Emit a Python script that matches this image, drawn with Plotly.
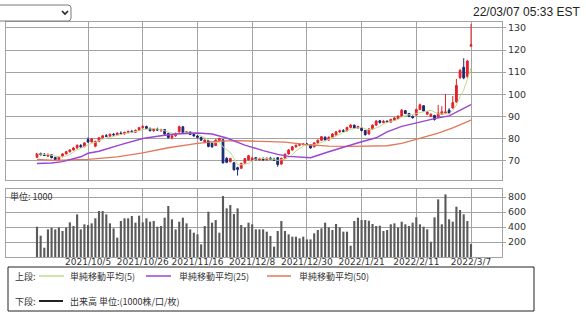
import plotly.graph_objects as go
import pandas as pd

W, H = 586, 314


def px(x):
    return x / W


def py(y):
    return 1 - y / H


# ---------------- data ----------------
opens = [71.5, 73.2, 72.8, 72.0, 72.6, 71.4, 70.4, 71.8, 73.0, 74.0,
         74.8, 75.7, 76.8, 76.3, 79.5, 78.4, 76.5, 78.6, 80.3, 81.2,
         81.0, 81.9, 81.6, 82.4, 82.1, 82.8, 83.2, 82.8, 83.7, 84.9,
         85.4, 84.5, 83.5, 84.2, 83.8, 84.0, 82.2, 80.4, 81.2, 83.0,
         85.3, 82.5, 83.0, 81.8, 81.1, 80.5, 78.2, 79.0, 77.8, 76.8,
         79.1, 79.4, 71.0, 69.5, 69.0, 66.8, 66.5, 68.8, 70.3, 70.2,
         71.3, 70.4, 70.8, 70.3, 71.1, 70.6, 71.3, 68.4, 71.1, 73.0,
         74.8, 76.2, 76.9, 77.3, 77.5, 77.2, 76.2, 78.0, 79.2, 80.6,
         79.3, 80.5, 81.6, 83.0, 83.5, 83.4, 85.0, 86.0, 84.7, 84.8,
         83.6, 82.0, 84.3, 86.0, 88.0, 87.2, 87.8, 87.4, 88.2, 89.0,
         90.1, 92.6, 91.3, 90.0, 90.6, 93.1, 94.8, 91.0, 90.0, 90.4,
         89.6, 91.0, 91.6, 92.8, 93.8, 96.5, 107.6, 112.2, 108.0, 121.8]
highs = [73.5, 73.6, 73.4, 73.2, 72.9, 71.7, 71.9, 73.4, 74.4, 75.1,
         76.2, 77.3, 77.5, 78.3, 80.5, 80.2, 79.0, 80.6, 81.6, 82.0,
         82.2, 82.5, 82.8, 83.2, 83.0, 83.5, 83.9, 84.0, 85.2, 86.0,
         85.8, 85.0, 84.6, 84.9, 84.4, 84.3, 82.6, 81.5, 82.6, 85.8,
         85.6, 83.4, 83.3, 82.4, 81.6, 80.8, 79.6, 79.3, 78.2, 79.6,
         80.3, 79.8, 71.5, 71.2, 69.4, 67.2, 69.0, 71.1, 72.6, 71.8,
         71.6, 71.2, 71.5, 71.4, 71.7, 71.3, 71.6, 71.3, 73.2, 75.2,
         76.6, 77.3, 77.8, 77.8, 78.0, 77.4, 78.3, 79.5, 81.1, 80.9,
         81.0, 82.4, 83.3, 84.0, 84.2, 85.3, 86.4, 86.3, 85.8, 85.0,
         83.9, 84.6, 86.4, 88.3, 88.4, 88.3, 88.2, 88.9, 89.6, 90.4,
         93.3, 92.9, 91.6, 90.4, 93.5, 95.8, 95.0, 92.4, 91.3, 90.7,
         95.2, 94.6, 100.2, 93.7, 99.2, 107.0, 111.4, 116.3, 115.6, 131.8]
lows = [71.2, 72.3, 72.0, 71.8, 71.0, 70.0, 70.1, 71.5, 72.8, 73.6,
        74.5, 75.3, 75.8, 76.0, 78.0, 78.1, 76.0, 78.3, 79.9, 80.6,
        80.7, 81.2, 81.3, 81.8, 81.7, 82.3, 82.5, 82.5, 83.4, 84.4,
        84.2, 83.2, 83.0, 83.5, 82.9, 81.6, 80.0, 79.6, 80.8, 82.6,
        82.2, 82.0, 81.5, 80.9, 80.0, 78.9, 77.8, 76.0, 75.8, 76.5,
        78.7, 68.6, 68.8, 69.2, 65.5, 63.2, 66.2, 68.5, 70.0, 69.8,
        70.1, 69.8, 70.0, 70.0, 70.3, 69.8, 67.2, 68.1, 70.8, 72.7,
        74.4, 75.8, 76.5, 76.8, 76.9, 75.4, 76.0, 77.6, 78.9, 79.0,
        79.0, 80.2, 81.2, 82.5, 82.8, 83.1, 84.6, 84.4, 84.3, 83.2,
        81.3, 81.8, 84.0, 85.7, 86.7, 86.8, 87.0, 87.1, 87.9, 88.7,
        89.8, 91.0, 89.6, 89.0, 90.3, 92.8, 92.0, 90.6, 89.8, 88.1,
        89.3, 90.6, 91.2, 91.0, 93.5, 96.2, 106.8, 106.8, 107.2, 121.5]
closes = [73.2, 72.6, 72.3, 72.8, 71.3, 70.4, 71.6, 73.0, 74.0, 74.8,
          75.7, 76.9, 76.2, 78.0, 78.4, 79.8, 78.6, 80.3, 81.2, 81.0,
          81.9, 81.6, 82.4, 82.1, 82.8, 83.2, 82.8, 83.7, 84.9, 85.4,
          84.5, 83.5, 84.2, 83.8, 84.0, 82.0, 80.4, 81.2, 82.3, 85.3,
          82.5, 83.0, 81.8, 81.1, 80.5, 79.2, 79.3, 76.4, 76.2, 79.3,
          80.0, 69.0, 69.2, 70.9, 65.8, 66.0, 68.7, 70.9, 72.2, 71.1,
          70.4, 70.8, 70.3, 71.1, 70.6, 70.2, 68.2, 71.0, 72.9, 74.8,
          76.2, 76.9, 77.3, 77.5, 77.2, 75.7, 78.0, 79.2, 80.8, 79.3,
          80.5, 82.0, 83.0, 83.5, 83.2, 85.0, 86.1, 84.7, 85.4, 83.6,
          81.7, 84.3, 86.0, 87.9, 87.2, 87.8, 87.4, 88.6, 89.3, 90.1,
          92.8, 91.3, 90.0, 89.4, 93.1, 95.2, 92.4, 92.0, 91.0, 88.6,
          91.5, 92.1, 92.0, 91.4, 96.2, 104.0, 110.8, 107.4, 115.0, 122.4]
volumes = [404, 284, 124, 369, 391, 369, 395, 347, 395, 462,
           413, 569, 369, 436, 427, 449, 516, 613, 613, 569,
           449, 382, 258, 480, 516, 516, 547, 458, 551, 462,
           516, 471, 480, 404, 413, 524, 680, 502, 369, 471,
           524, 449, 369, 324, 302, 169, 413, 604, 458, 493,
           324, 813, 649, 693, 573, 649, 427, 395, 458, 436,
           369, 369, 369, 338, 280, 138, 347, 480, 347, 302,
           271, 271, 249, 271, 235, 235, 316, 360, 382, 458,
           395, 360, 440, 395, 338, 338, 151, 480, 524, 493,
           493, 484, 440, 413, 418, 347, 360, 436, 449, 395,
           471, 436, 413, 458, 529, 436, 404, 369, 204, 529,
           769, 436, 835, 502, 471, 671, 627, 569, 480, 173]

ma25_idx = [0, 4, 7, 12, 14, 17, 23, 29, 34, 38, 44, 48, 52, 57, 62, 66, 69,
            75, 80, 84, 89, 93, 96, 100, 105, 109, 113, 115, 119]
ma25_val = [68.7, 68.9, 69.5, 71.7, 73.3, 74.2, 77.2, 80.0, 81.2, 82.0, 82.5,
            82.0, 80.2, 77.0, 74.5, 72.8, 71.9, 71.3, 74.0, 76.1, 78.5, 80.3,
            83.0, 85.5, 87.6, 89.0, 90.2, 91.8, 95.3]
ma50_idx = [0, 5, 14, 22, 29, 36, 44, 50, 55, 62, 68, 74, 80, 86, 92, 96, 100,
            105, 110, 114, 119]
ma50_val = [70.5, 70.1, 70.5, 71.7, 73.5, 75.8, 77.8, 78.8, 79.0, 78.8, 78.3,
            77.2, 76.5, 76.4, 76.6, 76.7, 77.8, 80.2, 82.4, 84.8, 88.3]

tick_idx = [14, 29, 44, 59, 74, 89, 104, 119]
tick_labels = ["2021/10/5", "2021/10/26", "2021/11/16", "2021/12/8",
               "2021/12/30", "2022/1/21", "2022/2/11", "2022/3/7"]
price_ticks = [70, 80, 90, 100, 110, 120, 130]
vol_ticks = [200, 400, 600, 800]

legend_upper = ["単純移動平均(5)", "単純移動平均(25)", "単純移動平均(50)"]
legend_lower = "出来高 単位:(1000株/口/枚)"
timestamp = "22/03/07 05:33 EST"
unit_label = "単位: 1000"

# ---------------- styles ----------------
RED = "#e3222b"
NAVY = "#1b2874"
C_MA5 = "#c4d98e"
C_MA25 = "#9b45d3"
C_MA50 = "#e2785a"
GRID = "#a3a3a3"
TXT = "#333333"
NUMFONT = "DejaVu Sans"
JPFONT = "Noto Sans CJK JP"

x = list(range(len(closes)))
ma5 = pd.Series(closes).rolling(5, min_periods=1).mean()

fig = go.Figure()
fig.add_trace(go.Candlestick(
    x=x, open=opens, high=highs, low=lows, close=closes,
    increasing=dict(line=dict(color=RED, width=1), fillcolor=RED),
    decreasing=dict(line=dict(color=NAVY, width=1), fillcolor=NAVY),
    whiskerwidth=0, xaxis="x", yaxis="y", hoverinfo="skip"))
fig.add_trace(go.Scatter(x=x, y=ma5, mode="lines",
                         line=dict(color=C_MA5, width=1), xaxis="x", yaxis="y"))
fig.add_trace(go.Scatter(x=ma50_idx, y=ma50_val, mode="lines",
                         line=dict(color=C_MA50, width=1.3), xaxis="x", yaxis="y"))
fig.add_trace(go.Scatter(x=ma25_idx, y=ma25_val, mode="lines",
                         line=dict(color=C_MA25, width=1.4), xaxis="x", yaxis="y"))
fig.add_trace(go.Bar(x=x, y=volumes, width=0.58,
                     marker=dict(color="#5a5a5a", line=dict(width=0)),
                     xaxis="x2", yaxis="y2"))

XR = [-8.5, 127.5]
xdom = [px(6), px(502)]
common_x = dict(range=XR, domain=xdom, tickvals=tick_idx, showgrid=True,
                gridcolor=GRID, gridwidth=1, showline=True, mirror=True,
                linecolor=GRID, linewidth=1, zeroline=False, fixedrange=True)

fig.update_layout(
    width=W, height=H, margin=dict(l=0, r=0, t=0, b=0),
    paper_bgcolor="white", plot_bgcolor="white", showlegend=False,
    xaxis=dict(**common_x, showticklabels=False, rangeslider=dict(visible=False),
               anchor="y"),
    yaxis=dict(domain=[py(180), py(22)], range=[61.2, 132.7], side="right",
               tickvals=price_ticks, showgrid=True, gridcolor=GRID,
               showline=True, mirror=True, linecolor=GRID, zeroline=False,
               ticks="outside", ticklen=3, tickcolor=GRID,
               tickfont=dict(family=NUMFONT, size=9.5, color=TXT), anchor="x"),
    xaxis2=dict(**common_x, ticktext=tick_labels, ticks="",
                ticklabelstandoff=-4,
                tickfont=dict(family=NUMFONT, size=9, color=TXT), anchor="y2"),
    yaxis2=dict(domain=[py(257), py(189)], range=[0, 907], side="right",
                tickvals=vol_ticks, showgrid=True, gridcolor=GRID,
                showline=True, mirror=True, linecolor=GRID, zeroline=False,
                ticks="outside", ticklen=3, tickcolor=GRID,
                tickfont=dict(family=NUMFONT, size=9.5, color=TXT), anchor="x2"),
)

shapes = []
annos = []

# dropdown box
x0, x1, y0, y1, r = -3, 71, 5, 21, 3
path = (f"M {px(x0)},{py(y0)} L {px(x1 - r)},{py(y0)} "
        f"Q {px(x1)},{py(y0)} {px(x1)},{py(y0 + r)} "
        f"L {px(x1)},{py(y1 - r)} Q {px(x1)},{py(y1)} {px(x1 - r)},{py(y1)} "
        f"L {px(x0)},{py(y1)} Z")
shapes.append(dict(type="path", xref="paper", yref="paper", path=path,
                   fillcolor="white", line=dict(color="#7a7a7a", width=1)))
chev = f"M {px(62)},{py(11)} L {px(65)},{py(14)} L {px(68)},{py(11)}"
shapes.append(dict(type="path", xref="paper", yref="paper", path=chev,
                   line=dict(color="#222222", width=1.6)))

# timestamp
annos.append(dict(text=timestamp, x=px(582), y=py(12), xref="paper", yref="paper",
                  xanchor="right", yanchor="middle", showarrow=False,
                  font=dict(family="Liberation Sans", size=12, color="#222")))

# volume unit label
annos.append(dict(text=unit_label, x=px(8), y=py(196), xref="paper", yref="paper",
                  xanchor="left", yanchor="middle", showarrow=False,
                  font=dict(family=JPFONT, size=9, color=TXT)))

# legend box
shapes.append(dict(type="rect", xref="paper", yref="paper",
                   x0=px(8), x1=px(534), y0=py(267), y1=py(311),
                   line=dict(color="#222222", width=1), fillcolor="rgba(0,0,0,0)"))
row1, row2 = 276, 301
annos.append(dict(text="上段:", x=px(13), y=py(row1), xref="paper", yref="paper",
                  xanchor="left", yanchor="middle", showarrow=False,
                  font=dict(family=JPFONT, size=9, color=TXT)))
annos.append(dict(text="下段:", x=px(13), y=py(row2), xref="paper", yref="paper",
                  xanchor="left", yanchor="middle", showarrow=False,
                  font=dict(family=JPFONT, size=9, color=TXT)))
leg_lines = [(39, 64, 68, C_MA5), (146, 171, 177, C_MA25), (267, 291, 297, C_MA50)]
for (lx0, lx1, tx, col), lab in zip(leg_lines, legend_upper):
    shapes.append(dict(type="line", xref="paper", yref="paper",
                       x0=px(lx0), x1=px(lx1), y0=py(row1), y1=py(row1),
                       line=dict(color=col, width=1.5)))
    annos.append(dict(text=lab, x=px(tx), y=py(row1), xref="paper", yref="paper",
                      xanchor="left", yanchor="middle", showarrow=False,
                      font=dict(family=JPFONT, size=9, color=TXT)))
shapes.append(dict(type="line", xref="paper", yref="paper",
                   x0=px(39), x1=px(63), y0=py(row2), y1=py(row2),
                   line=dict(color="#222222", width=2)))
annos.append(dict(text=legend_lower, x=px(68), y=py(row2), xref="paper", yref="paper",
                  xanchor="left", yanchor="middle", showarrow=False,
                  font=dict(family=JPFONT, size=9, color=TXT)))

fig.update_layout(shapes=shapes, annotations=annos)
fig.write_html("out.html", config={"displayModeBar": False})
